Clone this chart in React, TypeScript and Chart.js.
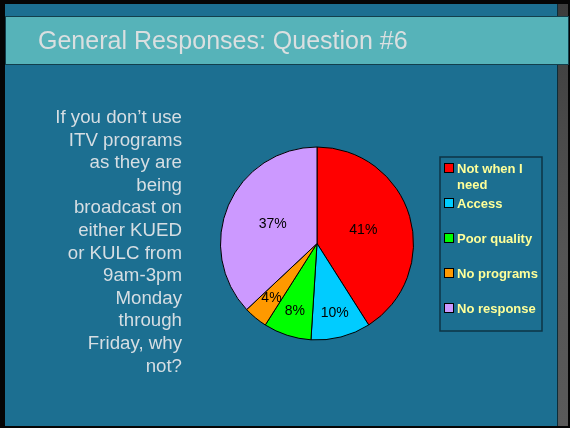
import React, { useEffect, useRef } from "react";
import { Chart, registerables } from "chart.js";

Chart.register(...registerables);

const TITLE = "General Responses: Question #6";
const QUESTION_LINES = [
  "If you don\u2019t use",
  "ITV programs",
  "as they are",
  "being",
  "broadcast on",
  "either KUED",
  "or KULC from",
  "9am-3pm",
  "Monday",
  "through",
  "Friday, why",
  "not?",
];
const CATEGORIES = ["Not when I need", "Access", "Poor quality", "No programs", "No response"];
const PERCENTS = [41, 10, 8, 4, 37];
const COLORS = ["#ff0000", "#00ccff", "#00ff00", "#ff9900", "#cc99ff"];

const FONT = "'Liberation Sans', Arial, sans-serif";

const slidePlugin = {
  id: "slide",
  beforeDraw(chart: any) {
    const ctx = chart.ctx as CanvasRenderingContext2D;
    const W = chart.width;
    const H = chart.height;
    ctx.save();
    // frame
    ctx.fillStyle = "#050505";
    ctx.fillRect(0, 0, W, H);
    // main blue
    ctx.fillStyle = "#1c6f91";
    ctx.fillRect(5, 4, 552, 422);
    // dark divider
    ctx.fillStyle = "#0c2c38";
    ctx.fillRect(557, 4, 1, 422);
    // gray strip
    const g = ctx.createLinearGradient(0, 4, 0, 426);
    g.addColorStop(0, "#3c3c3c");
    g.addColorStop(0.3, "#4a4a4a");
    g.addColorStop(0.6, "#555555");
    g.addColorStop(1, "#5a5a5a");
    ctx.fillStyle = g;
    ctx.fillRect(558, 4, 10, 422);
    // title band
    ctx.fillStyle = "#123f4c";
    ctx.fillRect(5, 16, 564, 49);
    ctx.fillStyle = "#56b3b9";
    ctx.fillRect(6, 17, 562, 47);
    ctx.fillStyle = "#dadfe0";
    ctx.font = `25px ${FONT}`;
    ctx.textAlign = "left";
    ctx.textBaseline = "alphabetic";
    ctx.fillText(TITLE, 38, 49);
    // question text
    ctx.fillStyle = "#d6dee3";
    ctx.font = `18.7px ${FONT}`;
    ctx.textAlign = "right";
    QUESTION_LINES.forEach((line, i) => {
      ctx.fillText(line, 182, 123 + i * 22.6);
    });
    ctx.restore();
  },
  afterDraw(chart: any) {
    const ctx = chart.ctx as CanvasRenderingContext2D;
    const meta = chart.getDatasetMeta(0);
    const data = chart.data.datasets[0].data as number[];
    ctx.save();
    // slice labels
    ctx.fillStyle = "#000000";
    ctx.font = `14px ${FONT}`;
    ctx.textAlign = "center";
    ctx.textBaseline = "middle";
    meta.data.forEach((arc: any, i: number) => {
      const mid = (arc.startAngle + arc.endAngle) / 2;
      const frac = data[i] > 20 ? 0.5 : 0.74;
      const r = arc.outerRadius * frac;
      ctx.fillText(`${data[i]}%`, arc.x + Math.cos(mid) * r, arc.y + Math.sin(mid) * r);
    });
    // legend box
    const bx = 440, by = 157, bw = 102, bh = 174;
    ctx.strokeStyle = "#0d3445";
    ctx.lineWidth = 1.5;
    ctx.strokeRect(bx, by, bw, bh);
    ctx.font = `bold 13px ${FONT}`;
    ctx.textAlign = "left";
    ctx.textBaseline = "alphabetic";
    const labels = chart.data.labels as string[];
    const colors = chart.data.datasets[0].backgroundColor as string[];
    const maxW = bx + bw - 457 - 1;
    labels.forEach((lab, i) => {
      const cy = 168 + i * 35;
      ctx.fillStyle = colors[i];
      ctx.fillRect(444.5, cy - 4.5, 9, 9);
      ctx.strokeStyle = "#000000";
      ctx.lineWidth = 1;
      ctx.strokeRect(444.5, cy - 4.5, 9, 9);
      // wrap
      const words = lab.split(" ");
      const lines: string[] = [];
      let cur = "";
      words.forEach((w) => {
        const t = cur ? cur + " " + w : w;
        if (ctx.measureText(t).width > maxW && cur) {
          lines.push(cur);
          cur = w;
        } else cur = t;
      });
      if (cur) lines.push(cur);
      ctx.fillStyle = "#ffff99";
      lines.forEach((ln, j) => {
        ctx.fillText(ln, 457, cy + 4.5 + j * 16);
      });
    });
    ctx.restore();
  },
};

export default function App() {
  const ref = useRef<HTMLCanvasElement | null>(null);
  useEffect(() => {
    document.body.style.margin = "0";
    if (!ref.current) return;
    const chart = new Chart(ref.current, {
      type: "pie",
      data: {
        labels: CATEGORIES,
        datasets: [
          {
            data: PERCENTS,
            backgroundColor: COLORS,
            borderColor: "#000000",
            borderWidth: 1,
          },
        ],
      },
      options: {
        responsive: false,
        animation: false,
        layout: { padding: { left: 220, top: 146, right: 156, bottom: 87 } },
        plugins: {
          legend: { display: false },
          tooltip: { enabled: false },
          title: { display: false },
        },
      },
      plugins: [slidePlugin],
    });
    return () => chart.destroy();
  }, []);
  return <canvas ref={ref} width={570} height={428} style={{ display: "block" }} />;
}
